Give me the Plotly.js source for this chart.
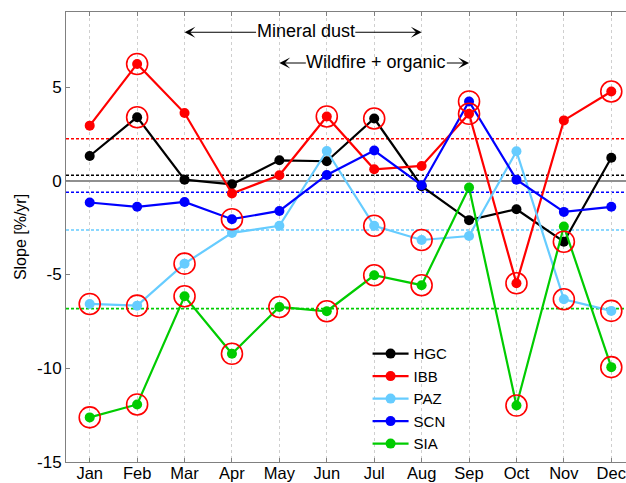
<!DOCTYPE html>
<html><head><meta charset="utf-8">
<script src="https://cdn.plot.ly/plotly-3.0.1.min.js"></script>
<style>html,body{margin:0;padding:0;overflow:hidden;background:#fff}#chart{width:635px;height:483px}</style>
</head><body><div id="chart"></div>
<script>
const months = ['Jan','Feb','Mar','Apr','May','Jun','Jul','Aug','Sep','Oct','Nov','Dec'];
const stations = ['HGC','IBB','PAZ','SCN','SIA'];
const colors = ['#000000','#ff0000','#66ccff','#0000ff','#00cc00'];
const yTickVals = [-15, -10, -5, 0, 5];
const yTickText = ['-15', '-10', '-5', '0', '5'];

const HGC = [1.32, 3.39, 0.06, -0.19, 1.09, 1.04, 3.32, -0.29, -2.10, -1.52, -3.25, 1.23];
const IBB = [2.94, 6.23, 3.61, -0.68, 0.29, 3.43, 0.61, 0.79, 3.57, -5.47, 3.22, 4.76];
const PAZ = [-6.57, -6.66, -4.42, -2.78, -2.40, 1.59, -2.40, -3.16, -2.95, 1.57, -6.32, -6.94];
const SCN = [-1.16, -1.39, -1.13, -2.05, -1.61, 0.31, 1.61, -0.24, 4.23, 0.06, -1.66, -1.39];
const SIA = [-12.62, -11.93, -6.16, -9.23, -6.73, -6.96, -5.04, -5.57, -0.36, -11.99, -2.44, -9.94];

// significant trends (1 = circled)
const sigHGC = [0,1,0,0,0,0,1,0,0,0,1,0];
const sigIBB = [0,1,0,0,0,1,0,0,1,1,0,1];
const sigPAZ = [1,1,1,0,0,0,1,1,0,0,1,1];
const sigSCN = [0,0,0,1,0,0,0,0,1,0,0,0];
const sigSIA = [1,1,1,1,1,1,1,1,0,1,0,1];

const meanSlopes = [0.29, 2.24, -2.63, -0.61, -6.82];

const series = [HGC, IBB, PAZ, SCN, SIA];
const sigs = [sigHGC, sigIBB, sigPAZ, sigSCN, sigSIA];

const traces = series.map((vals, i) => ({
  x: months, y: vals, name: stations[i], type: 'scatter', mode: 'lines+markers',
  line: {color: colors[i], width: 2.2},
  marker: {color: colors[i], size: 10}
}));

const sx = [], sy = [];
series.forEach((vals, i) => vals.forEach((v, j) => { if (sigs[i][j]) { sx.push(months[j]); sy.push(v); } }));
traces.push({
  x: sx, y: sy, type: 'scatter', mode: 'markers', showlegend: false, hoverinfo: 'skip',
  marker: {symbol: 'circle-open', size: 21, color: '#ff0000', line: {width: 1.6, color: '#ff0000'}}
});

const shapes = meanSlopes.map((m, i) => ({
  type: 'line', xref: 'paper', x0: 0, x1: 1, yref: 'y', y0: m, y1: m, layer: 'between',
  line: {color: colors[i], width: 1.6, dash: '3px,2px'}
}));

const fontFam = 'Liberation Sans, Arial, sans-serif';
function arrow(head, tail, y) {
  return {x: head, y: y, ax: tail, ay: y, xref: 'x', yref: 'y', axref: 'x', ayref: 'y',
    text: '', showarrow: true, arrowhead: 3, arrowsize: 1.8, arrowwidth: 1, arrowcolor: '#000'};
}
const annotations = [
  {x: 4.557, y: 7.97, xref: 'x', yref: 'y', text: 'Mineral dust', showarrow: false, font: {family: fontFam, size: 18, color: '#000'}},
  arrow(2, 3.54, 7.92), arrow(7, 5.57, 7.92),
  {x: 6.04, y: 6.35, xref: 'x', yref: 'y', text: 'Wildfire + organic', showarrow: false, font: {family: fontFam, size: 18, color: '#000'}},
  arrow(4, 4.59, 6.28), arrow(8, 7.50, 6.28)
];

const layout = {
  width: 635, height: 483,
  margin: {l: 66, r: 0, t: 12, b: 21},
  paper_bgcolor: '#fff', plot_bgcolor: '#fff',
  font: {family: fontFam, size: 17, color: '#000'},
  showlegend: true,
  legend: {x: 0.53, y: 0.277, xanchor: 'left', yanchor: 'top', bgcolor: 'rgba(0,0,0,0)',
    itemwidth: 36,
    font: {family: fontFam, size: 15, color: '#000'}, tracegroupgap: 0},
  xaxis: {
    type: 'category', range: [-0.5, 11.5], showgrid: true, gridcolor: '#cfcfcf', griddash: 'dot', gridwidth: 1,
    showline: true, linecolor: '#808080', linewidth: 1, mirror: 'ticks',
    ticks: 'inside', ticklen: 4, tickcolor: '#808080', zeroline: false, ticklabelstandoff: -4,
    tickfont: {family: fontFam, size: 16.5, color: '#000'}
  },
  yaxis: {
    range: [-15, 9], tickvals: yTickVals, ticktext: yTickText, showgrid: false,
    showline: true, linecolor: '#808080', linewidth: 1, mirror: 'ticks',
    ticks: 'inside', ticklen: 4, tickcolor: '#808080',
    zeroline: true, zerolinecolor: '#909090', zerolinewidth: 1.5,
    tickfont: {family: fontFam, size: 17, color: '#000'},
    title: {text: 'Slope [%/yr]', font: {family: fontFam, size: 16, color: '#000'}, standoff: 6}
  },
  shapes: shapes, annotations: annotations
};

Plotly.newPlot('chart', traces, layout, {displayModeBar: false, staticPlot: true});
</script></body></html>
